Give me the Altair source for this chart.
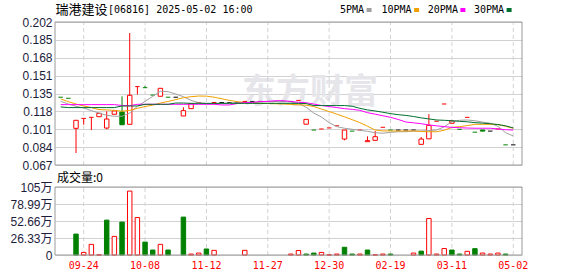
import json
import altair as alt
import pandas as pd

# ---------------- data ----------------
OPEN = [0.131, 0.130, 0.1016, 0.111, 0.112, 0.1126, 0.1019, 0.1149, 0.117, 0.1054,
        0.141, 0.140, 0.133, 0.1319, 0.131, 0.131, 0.1133, 0.1202, 0.126, 0.125,
        0.126, 0.126, 0.126, 0.126, 0.127, 0.127, 0.127, 0.127, 0.127, 0.127,
        0.127, 0.128, 0.1055, 0.100, 0.101, 0.102, 0.104, 0.0915, 0.099, 0.100,
        0.089, 0.0903, 0.1026, 0.100, 0.100, 0.100, 0.100, 0.0865, 0.0917, 0.1083,
        0.1246, 0.1064, 0.1007, 0.112, 0.098, 0.100, 0.099, 0.101, 0.086, 0.086]
HIGH = [0.131, 0.130, 0.1092, 0.111, 0.112, 0.1158, 0.1177, 0.118, 0.1318, 0.1916,
        0.141, 0.1415, 0.133, 0.1394, 0.131, 0.131, 0.1215, 0.1249, 0.126, 0.125,
        0.126, 0.126, 0.126, 0.126, 0.127, 0.127, 0.127, 0.127, 0.127, 0.127,
        0.127, 0.128, 0.1101, 0.100, 0.101, 0.102, 0.104, 0.100, 0.099, 0.100,
        0.094, 0.0991, 0.1026, 0.100, 0.100, 0.100, 0.100, 0.0934, 0.1151, 0.1083,
        0.1246, 0.1085, 0.1007, 0.112, 0.098, 0.100, 0.099, 0.101, 0.086, 0.086]
LOW = [0.131, 0.130, 0.0783, 0.105, 0.100, 0.1126, 0.1007, 0.1149, 0.105, 0.1054,
       0.1335, 0.140, 0.133, 0.1319, 0.131, 0.131, 0.1133, 0.1202, 0.126, 0.125,
       0.126, 0.126, 0.126, 0.126, 0.127, 0.127, 0.127, 0.127, 0.127, 0.127,
       0.127, 0.128, 0.1055, 0.100, 0.101, 0.102, 0.104, 0.0903, 0.099, 0.100,
       0.089, 0.0903, 0.1026, 0.100, 0.100, 0.100, 0.100, 0.0865, 0.0917, 0.1083,
       0.1246, 0.1064, 0.1007, 0.112, 0.098, 0.099, 0.099, 0.101, 0.086, 0.086]
CLOSE = [0.131, 0.130, 0.1092, 0.111, 0.112, 0.1158, 0.1104, 0.118, 0.105, 0.1328,
         0.141, 0.140, 0.133, 0.1394, 0.131, 0.131, 0.1183, 0.1249, 0.126, 0.125,
         0.126, 0.126, 0.126, 0.126, 0.127, 0.127, 0.127, 0.127, 0.127, 0.127,
         0.127, 0.128, 0.1101, 0.100, 0.101, 0.102, 0.104, 0.100, 0.099, 0.100,
         0.090, 0.0937, 0.1026, 0.100, 0.100, 0.100, 0.100, 0.0915, 0.1044, 0.1083,
         0.1246, 0.1085, 0.1007, 0.112, 0.098, 0.099, 0.099, 0.101, 0.086, 0.086]
PRE_CLOSE = 0.132
# volume in 万 (10k shares)
VOLUME = [0, 0, 32.4, 4, 16.5, 0.3, 54, 28.8, 51, 99,
          58, 20, 7.7, 16.5, 7.7, 0, 58.7, 1.5, 3, 9.3,
          7.2, 0, 0, 0, 7.2, 0, 0, 0, 0, 0,
          1.5, 7, 1.5, 3, 4, 0.3, 1.5, 12, 1.5, 1.5,
          7.7, 0.3, 1.5, 1.5, 0, 0, 3, 6, 56.6, 1.5,
          10, 7.7, 1.5, 5.7, 9.8, 3, 1.5, 3, 1.5, 0]

MA5 = [0.1271, 0.1246, 0.1224, 0.1208, 0.1183, 0.1161, 0.1139, 0.1130, 0.1130, 0.1161,
       0.1224, 0.1271, 0.1318, 0.1366, 0.1362, 0.1340, 0.1315, 0.1280, 0.1258, 0.1250,
       0.1250, 0.1252, 0.1255, 0.1258, 0.1260, 0.1262, 0.1265, 0.1268, 0.1270, 0.1270,
       0.1265, 0.1252, 0.1215, 0.1160, 0.1123, 0.1070, 0.1032, 0.1017, 0.1007, 0.0998,
       0.0988, 0.0975, 0.0970, 0.0978, 0.0984, 0.0984, 0.0991, 0.0991, 0.0995, 0.1000,
       0.1030, 0.1080, 0.1092, 0.1095, 0.1088, 0.1075, 0.1064, 0.1035, 0.0975, 0.0944]
MA10 = [0.1293, 0.1268, 0.1245, 0.1228, 0.1212, 0.1193, 0.1190, 0.1186, 0.1178, 0.1185,
        0.1205, 0.1222, 0.1235, 0.1255, 0.1270, 0.1287, 0.1305, 0.1315, 0.1321, 0.1320,
        0.1310, 0.1295, 0.1280, 0.1268, 0.1260, 0.1255, 0.1252, 0.1250, 0.1248, 0.1246,
        0.1242, 0.1238, 0.1235, 0.1222, 0.1198, 0.1175, 0.1150, 0.1125, 0.1098, 0.1070,
        0.1036, 0.1000, 0.0992, 0.0991, 0.0991, 0.0991, 0.0991, 0.0986, 0.0984, 0.0984,
        0.0998, 0.1025, 0.1032, 0.1042, 0.1054, 0.1054, 0.1054, 0.1052, 0.1035, 0.1017]
MA20 = [0.1240, 0.1240, 0.1240, 0.1240, 0.1240, 0.1240, 0.1240, 0.1240, 0.1232, 0.1230,
        0.1243, 0.1243, 0.1243, 0.1243, 0.1243, 0.1243, 0.1243, 0.1243, 0.1243, 0.1243,
        0.1243, 0.1237, 0.1237, 0.1250, 0.1260, 0.1260, 0.1270, 0.1270, 0.1277, 0.1277,
        0.1270, 0.1262, 0.1258, 0.1245, 0.1232, 0.1222, 0.1212, 0.1202, 0.1195, 0.1186,
        0.1164, 0.1150, 0.1135, 0.1120, 0.1100, 0.1076, 0.1068, 0.1060, 0.1048, 0.1040,
        0.1032, 0.1025, 0.1022, 0.1019, 0.1017, 0.1017, 0.1017, 0.1010, 0.1003, 0.1000]
MA30 = [0.1218, 0.1212, 0.1212, 0.1212, 0.1212, 0.1212, 0.1212, 0.1212, 0.1227, 0.1227,
        0.1227, 0.1243, 0.1243, 0.1243, 0.1243, 0.1255, 0.1255, 0.1252, 0.1252, 0.1252,
        0.1252, 0.1252, 0.1252, 0.1252, 0.1252, 0.1252, 0.1252, 0.1252, 0.1252, 0.1252,
        0.1252, 0.1252, 0.1250, 0.1231, 0.1231, 0.1231, 0.1231, 0.1231, 0.1225, 0.1205,
        0.1190, 0.1180, 0.1168, 0.1155, 0.1145, 0.1138, 0.1128, 0.1115, 0.1105, 0.1095,
        0.1092, 0.1088, 0.1082, 0.1078, 0.1070, 0.1065, 0.1060, 0.1052, 0.1040, 0.1020]
MA_NAMES = ["5PMA", "10PMA", "20PMA", "30PMA"]

X_LABEL_IDX = [3, 11, 19, 27, 35, 43, 51, 59]
X_LABELS = ["09-24", "10-08", "11-12", "11-27", "12-30", "02-19", "03-11", "05-02"]
PRICE_TICKS = [0.067, 0.083875, 0.10075, 0.117625, 0.1345, 0.151375, 0.16825, 0.185125, 0.202]
VOL_TICKS = [0, 26.33, 52.66, 78.99, 105.32]
VOL_LABELS = ["0", "26.33万", "52.66万", "78.99万", "105万"]
TITLE_CN = "瑞港建设"
TITLE_CODE = "[06816] 2025-05-02 16:00"
WATERMARK = "东方财富"

# ---------------- styles ----------------
RED, GREEN, BLACK = "#ff0000", "#008000", "#000000"
MA_COLORS = ["#a0a0a0", "#f0a000", "#ff00ff", "#00702e"]
GRID, BORDER = "#d2d2d2", "#9a9a9a"
LABEL_COLOR = "#1c1c3c"
MONO = "DejaVu Sans Mono"
CJK = "Noto Sans CJK SC"

XMIN, XMAX = -0.74, 60.14
PMIN, PMAX = 0.067, 0.202
VMAX = 105.32
W, H = 467, 233

XS = alt.Scale(domain=[XMIN, XMAX], nice=False, zero=False)
YM = alt.Scale(domain=[PMIN, PMAX], range=[143, 0], nice=False, zero=False)
YV = alt.Scale(domain=[0, VMAX], range=[233, 165], nice=False, zero=False)

AX_M = alt.Axis(values=PRICE_TICKS, labelExpr="format(datum.value + 0.0000001, '.3f')",
                title=None, domain=False, ticks=False, grid=True, gridColor=GRID,
                labelFont="Liberation Sans", labelFontSize=12, labelColor=LABEL_COLOR,
                labelPadding=3, labelOverlap=False, orient="left")
vol_expr = "%s[indexof(%s, datum.value)]" % (json.dumps(VOL_LABELS, ensure_ascii=False), json.dumps(VOL_TICKS))
AX_V = alt.Axis(values=VOL_TICKS, labelExpr=vol_expr,
                title=None, domain=False, ticks=False, grid=True, gridColor=GRID,
                labelFont="Liberation Sans, Noto Sans CJK SC", labelFontSize=12, labelColor=LABEL_COLOR,
                labelPadding=3, labelOverlap=False, orient="left")

# ---------------- tables ----------------
N = len(CLOSE)
prev = [PRE_CLOSE] + CLOSE[:-1]
HALF = 0.29
rows = []
for i in range(N):
    o, h, l, c = OPEN[i], HIGH[i], LOW[i], CLOSE[i]
    kind = "up" if c > o else ("down" if c < o else "flat")
    if c > o:
        col = "r"
    elif c < o:
        col = "g"
    else:
        col = "r" if c > prev[i] else ("g" if c < prev[i] else "k")
    vdir = "down" if c < prev[i] else "up"
    rows.append(dict(i=i, x0=i - HALF, x1=i + HALF, o=o, h=h, l=l, c=c,
                     kind=kind, col=col, v=VOLUME[i], v0=0.0, vdir=vdir))
df = pd.DataFrame(rows)

ma_frames = [pd.DataFrame({"i": list(range(len(vals))), "val": vals})
             for vals in [MA5, MA10, MA20, MA30]]

grid_df = pd.DataFrame({"i": X_LABEL_IDX, "lab": X_LABELS,
                        "plo": PMIN, "phi": PMAX, "vlo": 0.0, "vhi": VMAX})
box_df = pd.DataFrame({"x0": [XMIN], "x1": [XMAX], "plo": [PMIN], "phi": [PMAX],
                       "vlo": [0.0], "vhi": [VMAX]})

COLS = alt.Scale(domain=["r", "g", "k"], range=[RED, GREEN, BLACK])
X = lambda f: alt.X(f, scale=XS, axis=None)
YMf = lambda f: alt.Y(f, scale=YM, axis=AX_M)
YVf = lambda f: alt.Y(f, scale=YV, axis=AX_V)


def text(s, x, y, **kw):
    return alt.Chart(pd.DataFrame({"t": [s]})).mark_text(**kw).encode(
        text="t:N", x=alt.value(x), y=alt.value(y))


# ---------------- main (price) panel ----------------
watermark = text(WATERMARK, 255, 71, font=CJK, fontSize=34, fontWeight="bold",
                 color="#e6e6ea", align="center", baseline="middle")
vgrid_m = alt.Chart(grid_df).mark_rule(color=GRID, strokeDash=[4, 3]).encode(
    x=X("i:Q"), y=YMf("plo:Q"), y2="phi:Q")
wicks = alt.Chart(df).mark_rule(strokeWidth=1).encode(
    x=X("i:Q"), y=YMf("l:Q"), y2="h:Q",
    color=alt.Color("col:N", scale=COLS, legend=None))
up_body = alt.Chart(df).transform_filter("datum.kind == 'up'").mark_rect(
    fill="white", stroke=RED, strokeWidth=1).encode(
    x=X("x0:Q"), x2="x1:Q", y=YMf("o:Q"), y2="c:Q")
down_body = alt.Chart(df).transform_filter("datum.kind == 'down'").mark_rect(
    fill=GREEN, stroke=GREEN, strokeWidth=1).encode(
    x=X("x0:Q"), x2="x1:Q", y=YMf("o:Q"), y2="c:Q")
flat_body = alt.Chart(df).transform_filter("datum.kind == 'flat'").mark_rule(strokeWidth=1).encode(
    x=X("x0:Q"), x2="x1:Q", y=YMf("c:Q"),
    color=alt.Color("col:N", scale=COLS, legend=None))
ma_lines = [alt.Chart(f).mark_line(strokeWidth=1, color=colr).encode(x=X("i:Q"), y=YMf("val:Q"))
            for f, colr in zip(ma_frames, MA_COLORS)]
box_m = alt.Chart(box_df).mark_rect(fillOpacity=0, stroke=BORDER, strokeWidth=1).encode(
    x=X("x0:Q"), x2="x1:Q", y=YMf("plo:Q"), y2="phi:Q")

title_cn = text(TITLE_CN, 0.5, -12.5, font=CJK, fontSize=13, color=BLACK, align="left", baseline="middle")
title_code = text(TITLE_CODE, 53, -12.5, font=MONO, fontSize=10, color=BLACK, align="left", baseline="middle")

legend_layers = []
LEG_TEXT_X = [285, 326.5, 372.8, 419]
for name, colr, tx in zip(MA_NAMES, MA_COLORS, LEG_TEXT_X):
    legend_layers.append(text(name, tx, -12.5, font=MONO, fontSize=10, color=BLACK,
                              align="left", baseline="middle"))
    sx = tx + len(name) * 6.02 + 2.5
    legend_layers.append(
        alt.Chart(pd.DataFrame({"n": [name]})).mark_rect(color=colr).encode(
            x=alt.value(sx), x2=alt.value(sx + 5), y=alt.value(-14), y2=alt.value(-10)))

main = alt.layer(watermark, vgrid_m, wicks, up_body, down_body, flat_body, *ma_lines,
                 box_m, title_cn, title_code, *legend_layers)

# ---------------- volume panel ----------------
vgrid_v = alt.Chart(grid_df).mark_rule(color=GRID, strokeDash=[4, 3]).encode(
    x=X("i:Q"), y=YVf("vlo:Q"), y2="vhi:Q")
vol_up = alt.Chart(df).transform_filter("datum.v > 0 && datum.vdir == 'up'").mark_rect(
    fill="white", stroke=RED, strokeWidth=1).encode(
    x=X("x0:Q"), x2="x1:Q", y=YVf("v0:Q"), y2="v:Q")
vol_down = alt.Chart(df).transform_filter("datum.v > 0 && datum.vdir == 'down'").mark_rect(
    fill=GREEN, stroke=GREEN, strokeWidth=1).encode(
    x=X("x0:Q"), x2="x1:Q", y=YVf("v0:Q"), y2="v:Q")
box_v = alt.Chart(box_df).mark_rect(fillOpacity=0, stroke=BORDER, strokeWidth=1).encode(
    x=X("x0:Q"), x2="x1:Q", y=YVf("vlo:Q"), y2="vhi:Q")
xlabels = alt.Chart(grid_df).mark_text(font=MONO, fontSize=10, color=RED,
                                       align="center", baseline="middle").encode(
    x=X("i:Q"), y=alt.value(244), text="lab:N")
vol_title = text("成交量:%g" % VOLUME[-1], 2, 156, font=CJK, fontSize=12, color=BLACK,
                 align="left", baseline="middle")

vol = alt.layer(vgrid_v, vol_up, vol_down, box_v, xlabels, vol_title)

chart = alt.layer(main, vol).resolve_scale(y="independent").properties(
    width=W, height=H,
    padding={"left": 55, "top": 22, "right": 56, "bottom": 21},
    autosize=alt.AutoSizeParams(type="none"),
).configure_view(stroke=None)

chart.save("out.html", embed_options={"renderer": "svg", "actions": False})
